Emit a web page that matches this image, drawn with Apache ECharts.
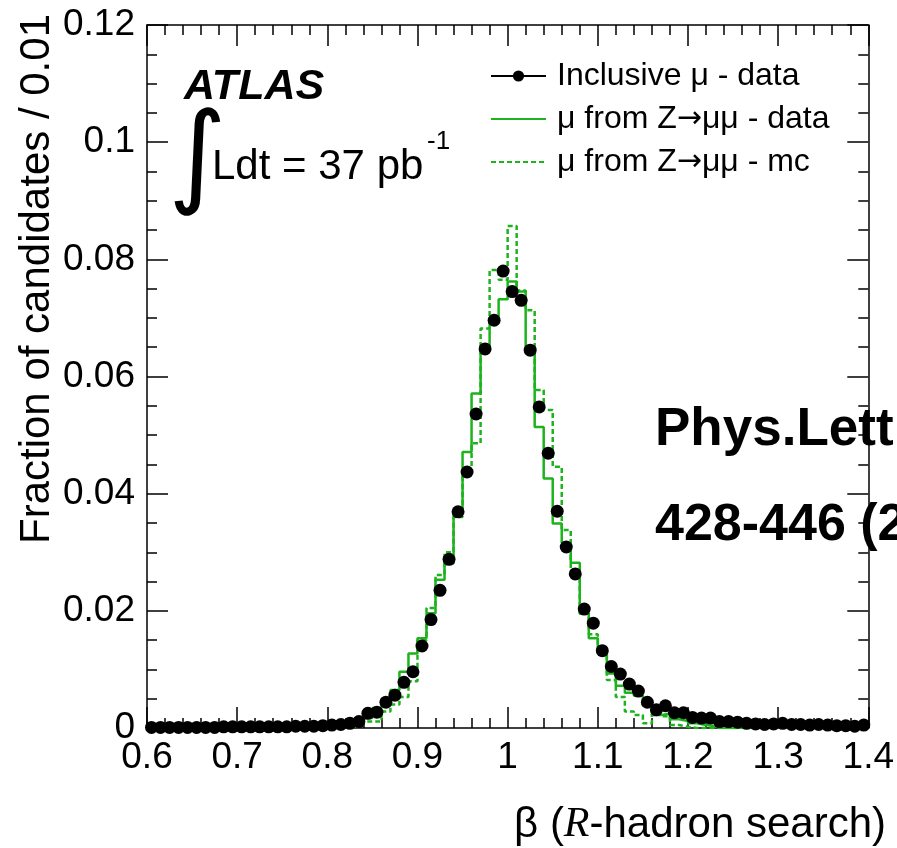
<!DOCTYPE html>
<html><head><meta charset="utf-8">
<script src="https://cdn.jsdelivr.net/npm/echarts@6/dist/echarts.min.js"></script>
<style>html,body{margin:0;padding:0;background:#fff}#c{width:897px;height:848px}</style>
</head><body><div id="c"></div>
<script>
// Binning: 80 bins of width 0.01 from 0.60 to 1.40
const binStart = 0.60;
const binWidth = 0.01;
const nBins = 80;

// Inclusive muon - data (points, fraction per bin)
const inclusiveData = [
  0.0001,0.0001,0.0001,0.0001,0.0001,0.0001,0.0001,0.0001,0.0002,0.0002,0.0002,0.0002,0.0002,0.0002,0.0002,0.0002,
  0.0003,0.0003,0.0003,0.0004,0.0005,0.0006,0.0008,0.0011,
  0.0025,0.0027,0.0044,0.0056,0.0078,0.0096,0.0140,0.0185,
  0.0235,0.0288,0.0369,0.0437,0.0536,0.0647,0.0696,0.0780,
  0.0745,0.0730,0.0645,0.0548,0.0469,0.0370,0.0309,0.0263,
  0.0203,0.0179,0.0132,0.0105,0.0092,0.0075,0.0063,0.0044,
  0.0031,0.0038,0.0026,0.0026,0.0018,0.0017,0.0017,0.0011,
  0.0011,0.0010,0.0008,0.0007,0.0006,0.0007,0.0008,0.0006,
  0.0006,0.0005,0.0006,0.0005,0.0004,0.0004,0.0003,0.0005
];

// mu from Z->mumu - data (solid histogram)
const zData = [
  0,0,0,0,0,0,0,0,0,0,0,0,0,0,0,0,0,0,0,0,0,0,
  0.0003,0.0008,0.0017,0.0034,0.0050,0.0065,0.0096,0.0127,
  0.0153,0.0196,0.0253,0.0281,0.0369,0.0471,0.0571,0.0645,
  0.0700,0.0732,0.0762,0.0745,0.0645,0.0514,0.0426,0.0349,
  0.0316,0.0282,0.0196,0.0153,0.0127,0.0093,0.0072,0.0060,
  0.0055,0.0038,0.0022,0.0025,0.0015,0.0012,0.0008,0.0005,
  0.0003,0,0,0,0,0,0,0,0,0,0,0,0,0,0,0,0,0
];

// mu from Z->mumu - mc (dashed histogram)
const zMC = [
  0,0,0,0,0,0,0,0,0,0,0,0,0,0,0,0,0,0,0,0,0,0,
  0.0002,0.0005,0.0011,0.0011,0.0028,0.0040,0.0053,0.0080,
  0.0150,0.0205,0.0261,0.0300,0.0360,0.0440,0.0486,0.0682,
  0.0782,0.0765,0.0857,0.0747,0.0713,0.0577,0.0543,0.0446,
  0.0338,0.0270,0.0195,0.0160,0.0125,0.0082,0.0053,0.0028,
  0.0022,0.0008,0.0024,0.0020,0.0005,0.0002,0,0,
  0,0,0,0,0,0,0,0,0,0,0,0,0,0,0,0,0,0
];

const seriesNames = ['Inclusive \u03bc - data', '\u03bc from Z\u2192\u03bc\u03bc - data', '\u03bc from Z\u2192\u03bc\u03bc - mc'];
const xRange = [0.6, 1.4];
const yRange = [0, 0.12];

function r(v){ return Math.round(v*10000)/10000; }
function stepData(arr){
  const d = arr.map((v,i)=>[r(binStart+i*binWidth), v]);
  d.push([r(binStart+nBins*binWidth), arr[arr.length-1]]);
  return d;
}
function pointData(arr){
  return arr.map((v,i)=>[r(binStart+(i+0.5)*binWidth), v]);
}

const FONT = '"Liberation Sans", Arial, Helvetica, sans-serif';
const GREEN = '#1db31d';
const axisCommon = {
  type:'value',
  axisLine:{show:true, onZero:false, lineStyle:{color:'#000', width:1.5}},
  axisTick:{show:true, inside:true, length:21, lineStyle:{color:'#000', width:1.5}},
  minorTick:{show:true, length:10, lineStyle:{color:'#000', width:1.5}},
  splitLine:{show:false},
  minorSplitLine:{show:false}
};
const T = (extra)=>Object.assign({fill:'#000', align:'left', verticalAlign:'middle', textAlign:'left', textVerticalAlign:'middle'}, extra);

const chart = echarts.init(document.getElementById('c'), null, {renderer:'canvas'});
chart.setOption({
  animation:false,
  backgroundColor:'#fff',
  grid:{left:147, top:25, right:19, bottom:120},
  xAxis:[
    Object.assign({}, axisCommon, {
      position:'bottom', min:xRange[0], max:xRange[1], interval:0.1,
      minorTick:Object.assign({}, axisCommon.minorTick, {splitNumber:5}),
      axisLabel:{show:true, fontSize:37, color:'#000', fontFamily:FONT, margin:11, showMaxLabel:true, showMinLabel:true,
        formatter:v=>String(Math.round(v*10)/10)}
    }),
    Object.assign({}, axisCommon, {
      position:'top', min:xRange[0], max:xRange[1], interval:0.1,
      minorTick:Object.assign({}, axisCommon.minorTick, {splitNumber:5}),
      axisLabel:{show:false}
    })
  ],
  yAxis:[
    Object.assign({}, axisCommon, {
      position:'left', min:yRange[0], max:yRange[1], interval:0.02,
      minorTick:Object.assign({}, axisCommon.minorTick, {splitNumber:4}),
      axisLabel:{show:true, fontSize:37, color:'#000', fontFamily:FONT, margin:12, showMaxLabel:true, showMinLabel:true,
        formatter:v=>String(Math.round(v*100)/100)}
    }),
    Object.assign({}, axisCommon, {
      position:'right', min:yRange[0], max:yRange[1], interval:0.02,
      minorTick:Object.assign({}, axisCommon.minorTick, {splitNumber:4}),
      axisLabel:{show:false}
    })
  ],
  legend:{
    left:490, top:60, padding:0, orient:'vertical', itemWidth:55, itemHeight:14, itemGap:11,
    selectedMode:false,
    formatter:name=>name.replace('\u2192', '{a|\u2192}'),
    textStyle:{fontSize:32, lineHeight:32, color:'#000', fontFamily:FONT, padding:[0,0,0,6],
      rich:{a:{fontSize:30, lineHeight:32, fontFamily:'"DejaVu Sans"', color:'#000'}}},
    data:[
      {name:seriesNames[0], lineStyle:{color:'#000', width:2, opacity:1}},
      {name:seriesNames[1], itemStyle:{opacity:0}},
      {name:seriesNames[2], itemStyle:{opacity:0}}
    ]
  },
  series:[
    {
      name:seriesNames[2], type:'line', step:'end', xAxisIndex:0, yAxisIndex:0,
      data:stepData(zMC), showSymbol:false, symbol:'none',
      lineStyle:{color:GREEN, width:2.5, type:[5,3]}, itemStyle:{color:GREEN}, z:2
    },
    {
      name:seriesNames[1], type:'line', step:'end', xAxisIndex:0, yAxisIndex:0,
      data:stepData(zData), showSymbol:false, symbol:'none',
      lineStyle:{color:GREEN, width:2.5}, itemStyle:{color:GREEN}, z:3
    },
    {
      name:seriesNames[0], type:'line', xAxisIndex:0, yAxisIndex:0,
      data:pointData(inclusiveData), symbol:'circle', symbolSize:13, showSymbol:true,
      lineStyle:{width:0, opacity:0, color:'#000'}, itemStyle:{color:'#000'}, z:5
    }
  ],
  graphic:[
    {type:'text', x:184, y:87, style:T({text:'ATLAS', font:'italic bold 43px '+FONT})},
    {type:'text', x:168, y:163, style:T({text:'\u222b', font:'112px "DejaVu Sans"'})},
    {type:'text', x:212, y:167, style:T({text:'Ldt = 37 pb', font:'42px '+FONT})},
    {type:'text', x:427, y:142, style:T({text:'-1', font:'26px '+FONT})},
    {type:'text', x:655, y:430, style:T({text:'Phys.Lett. B 701', font:'bold 53px '+FONT})},
    {type:'text', x:655, y:526, style:T({text:'428-446 (2011)', font:'bold 52px '+FONT})},
    {type:'text', x:37, y:14, rotation:Math.PI/2, style:T({text:'Fraction of candidates / 0.01', font:'42px '+FONT, align:'right', textAlign:'right'})},
    {type:'text', x:886, y:825, style:{
      text:'{n|\u03b2 (}{i|R}{n|-hadron search)}', align:'right', verticalAlign:'middle', textAlign:'right', textVerticalAlign:'middle',
      rich:{n:{font:'42px '+FONT, fill:'#000'}, i:{font:'italic 42px "Liberation Serif"', fill:'#000'}}
    }}
  ]
});
</script>
</body></html>
